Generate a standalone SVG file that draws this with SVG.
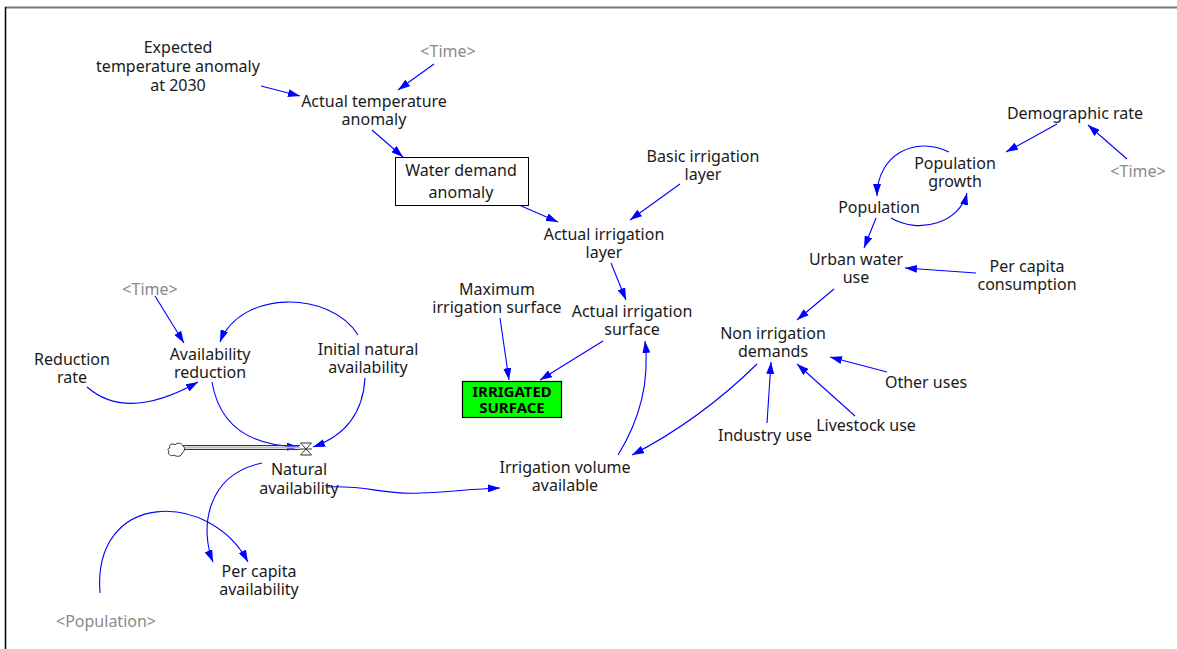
<svg xmlns="http://www.w3.org/2000/svg" width="1177" height="649" viewBox="0 0 1177 649">
<defs>
<marker id="ah" viewBox="0 0 12 8" refX="12" refY="4" markerWidth="12" markerHeight="8" markerUnits="userSpaceOnUse" orient="auto">
<path d="M0,0 L12,4 L0,8 Z" fill="#0000ff"/>
</marker>
<style>
text{font-family:"Noto Sans","DejaVu Sans",sans-serif;font-size:16px;fill:#1a1a1a;text-anchor:middle}
text.sh{fill:#8a8a8a}
text.b{font-weight:bold;font-size:15px;fill:#000}
.ln{fill:none;stroke:#0000ff;stroke-width:1.1;marker-end:url(#ah)}
</style>
</defs>
<rect width="1177" height="649" fill="#fff"/>
<line x1="5" y1="7.5" x2="1177" y2="7.5" stroke="#777" stroke-width="2"/>
<line x1="5.5" y1="7" x2="5.5" y2="649" stroke="#000" stroke-width="1.5"/>

<g id="connectors">
<path class="ln" d="M261,86 L300,96"/>
<path class="ln" d="M434,64 L398,90"/>
<path class="ln" d="M372,130 L403,157"/>
<path class="ln" d="M519,205 L558,222"/>
<path class="ln" d="M680,184 L630,220"/>
<path class="ln" d="M611,263 L626,300"/>
<path class="ln" d="M500,318 L509,380"/>
<path class="ln" d="M603,341 L540,380"/>
<path class="ln" d="M618,455 Q652,400 645,341"/>
<path class="ln" d="M757,364 Q700,420 632,455"/>
<path class="ln" d="M767,423 L771,362"/>
<path class="ln" d="M855,416 L797,364"/>
<path class="ln" d="M887,372 L830,357"/>
<path class="ln" d="M834,289 L797,320"/>
<path class="ln" d="M976,273 L905,268"/>
<path class="ln" d="M876,218 L864,248"/>
<path class="ln" d="M949,152 C915,135 877,155 877,196"/>
<path class="ln" d="M891,218 C920,235 960,222 967,193"/>
<path class="ln" d="M1057,124 L1006,152"/>
<path class="ln" d="M1127,159 L1088,125"/>
<path class="ln" d="M155,296 L184,343"/>
<path class="ln" d="M87,387 Q127,422 198,382"/>
<path class="ln" d="M358,335 C330,290 240,290 220,342"/>
<path class="ln" d="M212,382 C220,430 255,446 299,447"/>
<path class="ln" d="M365,378 Q362,430 313,447"/>
<path class="ln" d="M262,463 C205,475 200,530 213,562"/>
<path class="ln" d="M100,593 C92,490 210,490 248,562"/>
<path class="ln" d="M326,487 C370,485 380,495 420,493 C450,492 470,489 500,488"/>
</g>

<g id="flow">
<line x1="183" y1="445.5" x2="300" y2="445.5" stroke="#333" stroke-width="1"/>
<line x1="183" y1="447.5" x2="300" y2="447.5" stroke="#bbb" stroke-width="2"/>
<line x1="183" y1="449.5" x2="300" y2="449.5" stroke="#333" stroke-width="1"/>
<path d="M170,448 C168,444 173,443 175,445 C177,442 182,443 183,446 C186,448 184,452 182,453 C182,457 176,457 174,455 C171,457 167,454 169,451 C167,450 168,448 170,448 Z" fill="#fff" stroke="#333" stroke-width="1"/>
</g>

<g id="valve">
<path d="M300.5,443 L311.5,443 L300.5,455 L311.5,455 Z" fill="#fff" stroke="#333" stroke-width="1"/>
<line x1="300" y1="449" x2="312" y2="449" stroke="#333" stroke-width="1"/>
</g>

<g id="n-expected"><text x="178" y="53">Expected</text><text x="178" y="72">temperature anomaly</text><text x="178" y="91">at 2030</text></g>
<g id="n-time1"><text class="sh" x="448" y="57">&lt;Time&gt;</text></g>
<g id="n-ata"><text x="374" y="107">Actual temperature</text><text x="374" y="125">anomaly</text></g>
<g id="n-wda"><rect x="395.5" y="157.5" width="133" height="48" fill="#fff" stroke="#000" stroke-width="1"/><text x="461" y="176">Water demand</text><text x="461" y="198">anomaly</text></g>
<g id="n-bil"><text x="703" y="162">Basic irrigation</text><text x="703" y="180">layer</text></g>
<g id="n-ail"><text x="604" y="240">Actual irrigation</text><text x="604" y="258">layer</text></g>
<g id="n-mis"><text x="497" y="295">Maximum</text><text x="497" y="313">irrigation surface</text></g>
<g id="n-ais"><text x="632" y="317">Actual irrigation</text><text x="632" y="335">surface</text></g>
<g id="n-irr"><rect x="462.5" y="381.5" width="99" height="36" fill="#00ff00" stroke="#000" stroke-width="1.2"/><text class="b" x="512" y="397">IRRIGATED</text><text class="b" x="512" y="413">SURFACE</text></g>
<g id="n-time2"><text class="sh" x="150" y="295">&lt;Time&gt;</text></g>
<g id="n-rr"><text x="72" y="365">Reduction</text><text x="72" y="383">rate</text></g>
<g id="n-ar"><text x="210" y="360">Availability</text><text x="210" y="378">reduction</text></g>
<g id="n-ina"><text x="368" y="355">Initial natural</text><text x="368" y="373">availability</text></g>
<g id="n-na"><text x="299" y="475">Natural</text><text x="299" y="494">availability</text></g>
<g id="n-iva"><text x="565" y="473">Irrigation volume</text><text x="565" y="491">available</text></g>
<g id="n-pca"><text x="259" y="577">Per capita</text><text x="259" y="595">availability</text></g>
<g id="n-pop2"><text class="sh" x="106" y="627">&lt;Population&gt;</text></g>
<g id="n-dr"><text x="1075" y="119">Demographic rate</text></g>
<g id="n-pg"><text x="955" y="169">Population</text><text x="955" y="187">growth</text></g>
<g id="n-time3"><text class="sh" x="1138" y="177">&lt;Time&gt;</text></g>
<g id="n-pop"><text x="879" y="213">Population</text></g>
<g id="n-uwu"><text x="856" y="265">Urban water</text><text x="856" y="283">use</text></g>
<g id="n-pcc"><text x="1027" y="272">Per capita</text><text x="1027" y="290">consumption</text></g>
<g id="n-nid"><text x="773" y="339">Non irrigation</text><text x="773" y="357">demands</text></g>
<g id="n-ou"><text x="926" y="388">Other uses</text></g>
<g id="n-iu"><text x="765" y="441">Industry use</text></g>
<g id="n-lu"><text x="866" y="431">Livestock use</text></g>
</svg>
